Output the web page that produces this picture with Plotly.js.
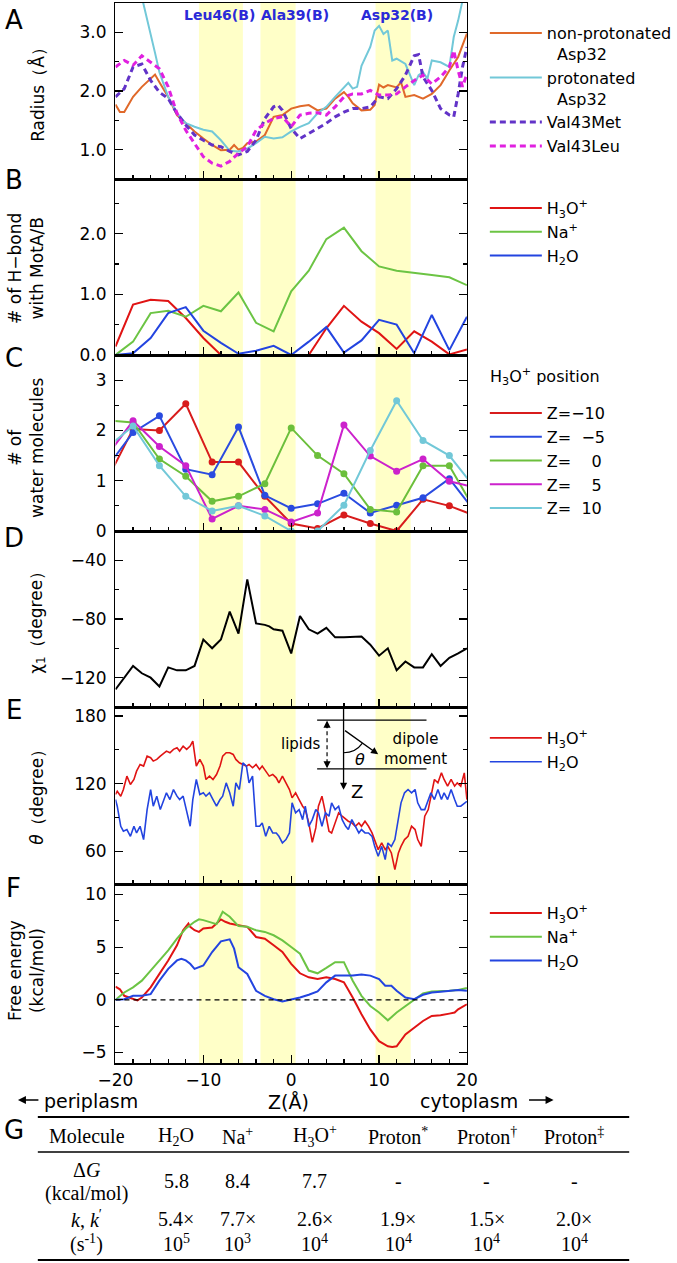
<!DOCTYPE html>
<html>
<head>
<meta charset="utf-8">
<script src="https://cdn.plot.ly/plotly-3.0.1.min.js"></script>
<style>
  body { margin: 0; background: #fff; }
  #chart { width: 677px; height: 1263px; }
</style>
</head>
<body>
<div id="chart"></div>
<script>
// ---------------- data ----------------

// highlighted residue regions (Z, angstrom)
var bandStart = [-10.5, -3.5, 9.6];
var bandEnd = [-5.5, 0.5, 13.6];
var residueLabels = ['Leu46(B)', 'Ala39(B)', 'Asp32(B)'];
var residueZ = [-8.2, 0.4, 12.0];

// A: pore radius
var zNonProt = [-20,-19.5,-19,-18,-17,-16,-15.5,-15,-14,-13,-12,-11,-10,-9,-8,-7,-6.5,-6,-5.5,-5,-4,-3,-2,-1,0,1,2,3,4,5,6,6.5,7,8,9,9.5,10,10.5,11,12,12.5,13,14,15,16,17,18,19,20];
var rNonProt = [1.77,1.64,1.64,1.90,2.07,2.21,2.28,2.15,1.90,1.59,1.45,1.31,1.19,1.08,0.99,1.00,1.08,1.00,1.03,1.11,1.14,1.25,1.56,1.59,1.70,1.74,1.76,1.67,1.70,1.87,1.98,1.90,1.79,1.67,1.68,1.76,2.11,2.06,2.10,2.06,2.15,1.90,1.93,1.87,1.95,2.10,2.35,2.58,2.98];
var zProt = [-20,-19,-18,-17,-16,-15.5,-15,-14,-13,-12,-11,-10,-9,-8,-7,-6,-5,-4,-3,-2,-1,0,1,2,3,4,5,6,6.5,7,7.5,8,8.5,9,9.5,10,10.5,11,11.5,12,13,14,14.5,15,15.5,16,17,18,18.5,19,19.5,20];
var rProt = [4.6,4.3,4.0,3.6,3.0,2.65,2.32,1.90,1.62,1.45,1.39,1.34,1.31,1.16,0.98,0.97,1.02,1.11,1.22,1.19,1.21,1.31,1.39,1.45,1.62,1.73,1.90,2.06,2.14,2.04,2.07,2.43,2.60,2.75,3.03,3.11,2.97,3.03,2.52,2.55,2.46,2.10,2.27,2.32,2.21,2.52,2.49,2.41,2.92,3.2,3.54,4.0];
var zMet = [-20,-19,-18,-17,-16,-15,-14,-13,-12,-11,-10,-9,-8,-7,-6,-5,-4,-3,-2,-1.5,-1,0,1,2,3,4,5,6,7,8,9,10,11,12,13,14,14.5,15,16,17,18,18.5,19,19.5,20];
var rMet = [1.90,2.04,2.41,2.46,2.18,1.98,1.87,1.62,1.42,1.25,1.16,1.08,1.05,0.97,0.91,0.97,1.16,1.53,1.73,1.76,1.67,1.36,1.19,1.28,1.36,1.45,1.56,1.64,1.70,1.70,1.73,1.90,1.87,2.04,2.27,2.60,2.62,2.24,2.01,1.70,1.59,1.56,1.95,2.41,2.75];
var zLeu = [-20,-19,-18,-17,-16,-15,-14,-13,-12,-11,-10,-9,-8,-7,-6,-5,-4,-3,-2,-1,0,1,2,3,4,5,6,7,8,9,10,11,12,13,14,15,16,17,18,18.5,19,19.5,20];
var rLeu = [2.41,2.52,2.44,2.60,2.49,2.38,2.07,1.62,1.33,1.11,0.88,0.77,0.72,0.80,0.94,1.05,1.33,1.45,1.53,1.56,1.39,1.59,1.62,1.63,1.59,1.73,1.90,1.95,1.95,2.01,1.93,1.93,1.95,2.07,2.18,2.27,2.12,2.24,2.41,2.69,2.35,2.07,2.29];

// B: number of H-bonds with MotA/B
var zB = [-20,-18,-16,-14,-12,-10,-8,-6,-4,-2,0,2,4,6,8,10,12,14,16,18,20];
var hbH3O = [0.14,0.83,0.91,0.89,0.61,0.28,0,0,0,0,0,0,0.44,0.81,0.55,0.36,0.10,0.39,0.22,0.01,0.09];
var hbNa = [0,0.22,0.69,0.73,0.63,0.81,0.72,1.03,0.53,0.39,1.05,1.39,1.91,2.10,1.71,1.46,1.39,1.36,1.32,1.28,1.15];
var hbH2O = [0,0.03,0.28,0.69,0.79,0.40,0.20,0.02,0.07,0.15,0,0.22,0.46,0.04,0.24,0.58,0.50,0.03,0.66,0.08,0.63];

// C: number of water molecules, for each H3O+ position
var zC = [-21,-18,-15,-12,-9,-6,-3,0,3,6,9,12,15,18,21];
var wZm10 = [1.0,2.03,2.0,2.53,1.37,1.37,0.69,0.15,0.05,0.32,0.15,0.0,0.63,0.50,0.3];
var wZm5 = [1.26,1.96,2.29,1.23,1.12,2.07,0.71,0.45,0.54,0.75,0.36,0.51,0.66,1.04,0.37];
var wZ0 = [2.2,2.16,1.43,1.09,0.59,0.69,0.94,2.05,1.50,1.14,0.43,0.38,1.30,1.30,0.39];
var wZ5 = [1.49,2.19,1.68,1.30,0.24,0.50,0.43,0.18,0.36,2.11,1.49,1.19,1.43,0.99,0.86];
var wZ10 = [1.65,2.09,1.30,0.69,0.40,0.50,0.30,0,0,0.51,1.60,2.59,1.80,1.50,0.84];
var posLabels = ['Z=\u221210', 'Z=\u00a0\u00a0\u22125', 'Z=\u00a0\u00a0\u00a0\u00a00', 'Z=\u00a0\u00a0\u00a0\u00a05', 'Z=\u00a0\u00a010'];

// D: chi1 dihedral
var zD = [-20,-18,-17,-16,-15,-14,-13,-12,-11,-10,-9,-8,-7,-6,-5,-4,-3,-2.5,-2,-1,0,1,2,3,4,5,6,7,8,9,10,11,12,13,14,15,16,17,18,19,20];
var chi1 = [-128,-112,-117,-120,-126,-113,-115,-115,-112,-94,-100,-94,-75,-90,-53,-83,-84,-85,-87,-88,-103.5,-78,-87,-90,-86,-92.5,-92.5,-92.5,-92,-97.5,-105,-100,-115,-109,-113,-113,-104,-112,-106.5,-103.5,-100];

// E: dipole angle theta
var zE = [-20.0,-19.8,-19.4,-19.1,-18.7,-18.3,-17.9,-17.6,-17.2,-16.8,
  -16.4,-16.0,-15.7,-15.3,-14.9,-14.5,-14.2,-13.8,-13.4,-13.0,
  -12.7,-12.3,-11.9,-11.5,-11.2,-10.8,-10.4,-10.0,-9.7,-9.3,
  -8.9,-8.5,-8.1,-7.8,-7.4,-7.0,-6.6,-6.3,-5.9,-5.5,
  -5.1,-4.8,-4.4,-4.0,-3.6,-3.3,-2.9,-2.5,-2.1,-1.7,
  -1.4,-1.0,-0.6,-0.2,0.1,0.5,0.9,1.3,1.6,2.0,
  2.4,2.8,3.1,3.5,3.9,4.3,4.6,5.0,5.4,5.8,
  6.2,6.5,6.9,7.3,7.7,8.0,8.4,8.8,9.2,9.5,
  9.9,10.3,10.7,11.0,11.4,11.8,12.2,12.5,12.9,13.3,
  13.7,14.1,14.4,14.8,15.2,15.6,15.9,16.3,16.7,17.1,
  17.4,17.8,18.2,18.6,18.9,19.3,19.7,20.0];
var thetaH3O = [110.4,113.3,108.9,114.8,126.7,119.3,123.7,131.1,137.0,135.6,
  144.4,143.0,140.0,141.5,144.4,147.4,148.9,147.4,150.4,151.9,
  148.9,153.3,150.4,153.3,157.8,135.6,141.5,135.6,123.7,126.7,
  123.7,128.1,135.6,144.4,147.4,147.4,145.9,141.5,138.5,137.0,
  135.6,137.0,134.1,137.0,132.6,135.6,131.1,126.7,128.1,125.2,
  120.7,126.7,120.7,114.8,107.4,111.9,105.9,100.0,97.0,85.2,
  68.0,80.7,100.0,108.9,94.1,77.8,76.3,85.2,94.1,91.1,
  88.1,86.7,85.2,82.2,85.2,82.2,86.7,82.2,76.3,70.4,
  61.5,67.4,61.5,64.4,58.5,43.7,58.5,64.4,70.4,73.3,
  82.2,79.3,70.4,64.4,91.1,97.0,108.9,123.7,120.7,129.6,
  123.7,117.8,123.7,117.8,120.7,117.8,129.6,105.9];
var thetaH2O = [105.9,100.0,82.2,77.8,79.3,73.3,82.2,76.3,82.2,70.4,
  97.0,114.8,100.0,108.9,97.0,105.9,111.9,105.9,114.8,108.9,
  105.9,108.9,94.1,82.2,105.9,123.7,110.4,111.9,108.9,111.9,
  105.9,100.0,105.9,108.9,120.7,111.9,100.0,120.7,114.8,138.5,
  135.6,120.7,126.7,82.2,82.2,85.2,73.3,82.2,76.3,76.3,
  73.3,67.4,70.4,76.3,103.0,94.1,97.0,88.1,100.0,82.2,
  88.1,97.0,94.1,82.2,94.1,91.1,103.0,97.0,100.0,88.1,
  82.2,79.3,88.1,82.2,76.3,79.3,76.3,76.3,73.3,64.4,
  55.6,64.4,52.6,67.4,64.4,70.4,88.1,103.0,111.9,114.8,
  111.9,114.8,103.0,97.0,97.0,105.9,111.9,105.9,114.8,105.9,
  111.9,105.9,114.8,105.9,100.0,100.0,103.0,104.4];

// F: free energy profiles
var zFH3O = [-20,-19.5,-19,-18,-17.5,-17,-16,-15,-14,-13,-12.3,-11.7,-11.5,-11,-10.5,-10,-9,-8.5,-8,-7.5,-7,-6,-5,-4,-3,-2,-1,0,1,2,3,4,5,6,7,8,9,10,11,11.5,12,13,14,15,16,17,18,18.6,19,20];
var gH3O = [1.25,1.0,0.38,0.05,-0.05,0.22,1.18,2.46,3.74,5.18,6.61,7.25,6.93,6.61,6.45,6.77,6.87,7.25,7.64,7.41,7.25,7.09,6.93,5.97,5.81,5.18,4.54,3.42,2.52,2.14,1.98,2.14,1.98,1.66,0.22,-1.37,-2.81,-3.93,-4.41,-4.47,-4.41,-3.29,-2.65,-2.01,-1.53,-1.47,-1.31,-1.21,-0.9,-0.42];
var zFNa = [-20,-19,-18,-17,-16,-15,-14,-13,-12,-11,-10.5,-10,-9,-8.5,-7.8,-7,-6,-5,-4,-3,-2,-1,0,1,2,3,4,5,6,7,8,9,10,11,12,13,14,15,16,17,18,19,20];
var gNa = [0,0.7,1.18,1.82,2.78,3.74,4.7,5.81,6.77,7.41,7.64,7.57,7.32,7.19,8.37,7.89,7.0,6.93,6.61,6.45,6.13,5.65,5.02,4.38,2.78,2.52,3.03,3.58,3.58,1.82,0.38,-0.58,-1.21,-1.95,-1.21,-0.58,0.06,0.61,0.8,0.8,0.86,0.93,1.12];
var zFH2O = [-20,-19,-18,-17,-16,-15,-14,-13,-12.5,-12,-11.5,-11,-10,-9,-8,-7,-6.5,-6,-5,-4,-3,-2,-1,0,1,2,3,4,5,6,7,8,9,10,10.7,11.4,12,13,14,15,16,17,18,19,20];
var gH2O = [0,0.06,0.38,0.38,0.54,1.82,2.94,3.74,3.90,3.74,3.42,2.94,3.26,4.54,5.56,5.75,4.86,3.10,2.46,0.86,0.38,0.06,-0.16,0,0.22,0.48,0.8,1.66,2.3,2.3,2.3,2.4,2.3,1.98,1.34,1.34,0.86,0.22,0.06,0.48,0.7,0.77,0.86,0.93,0.86];

// G: table
var tableCols = ['H<sub>2</sub>O', 'Na<sup>+</sup>', 'H<sub>3</sub>O<sup>+</sup>', 'Proton<sup>*</sup>', 'Proton<sup>\u2020</sup>', 'Proton<sup>\u2021</sup>'];
var deltaG = ['5.8', '8.4', '7.7', '-', '-', '-'];
var rateMant = ['5.4', '7.7', '2.6', '1.9', '1.5', '2.0'];
var rateExp = [5, 3, 4, 4, 4, 4];

// ---------------- layout helpers ----------------
var W = 677, H = 1263;
function px(x) { return x / W; }
function py(y) { return 1 - y / H; }

var sans = '"DejaVu Sans", Arial, sans-serif';
var serif = '"Times New Roman", "Liberation Serif", serif';

var panelBox = [[3, 179], [179, 355], [355, 531], [531, 707], [707, 884], [884, 1063]];
var yCfg = [
  {range: [0.5, 3.5], dtick: 1, tick0: 0, minor: 0.5, fmt: '.1f'},
  {range: [0, 2.9], dtick: 1, tick0: 0, minor: 0.5, fmt: '.1f'},
  {range: [0, 3.5], dtick: 1, tick0: 0, minor: 0.5, fmt: ''},
  {range: [-140, -20], dtick: 40, tick0: -40, minor: 20, fmt: ''},
  {range: [31, 188], dtick: 60, tick0: 0, minor: 30, fmt: ''},
  {range: [-6, 11], dtick: 5, tick0: 0, minor: 2.5, fmt: ''}
];

var layout = {
  width: W, height: H,
  margin: {l: 0, r: 0, t: 0, b: 0},
  paper_bgcolor: '#fff',
  plot_bgcolor: 'rgba(0,0,0,0)',
  font: {family: sans, size: 16, color: '#000'},
  showlegend: true,
  shapes: [],
  annotations: []
};

for (var i = 0; i < 6; i++) {
  var s = i === 0 ? '' : String(i + 1);
  layout['xaxis' + s] = {
    domain: [px(116), px(469)], range: [-20, 20], anchor: 'y' + s,
    tick0: 0, dtick: 10, ticks: 'inside', ticklen: 8, tickwidth: 1.2, tickcolor: '#000',
    minor: {dtick: 2, ticks: 'inside', ticklen: 4, tickwidth: 1.2, tickcolor: '#000'},
    showline: true, linecolor: '#000', linewidth: 1.5, mirror: true,
    showgrid: false, zeroline: false,
    showticklabels: i === 5, ticklabelstandoff: 1,
    tickfont: {family: sans, size: 17, color: '#000'}
  };
  var c = yCfg[i];
  layout['yaxis' + s] = {
    domain: [py(panelBox[i][1]), py(panelBox[i][0])], range: c.range, anchor: 'x' + s,
    tick0: c.tick0, dtick: c.dtick, tickformat: c.fmt,
    ticks: 'inside', ticklen: 8, tickwidth: 1.2, tickcolor: '#000',
    minor: {dtick: c.minor, ticks: 'inside', ticklen: 4, tickwidth: 1.2, tickcolor: '#000'},
    showline: true, linecolor: '#000', linewidth: 1.5, mirror: 'ticks',
    showgrid: false, zeroline: false, ticklabelstandoff: 4,
    tickfont: {family: sans, size: 17, color: '#000'}
  };
}

// legends
function legendAt(y) {
  return {
    x: px(487), y: py(y), xanchor: 'left', yanchor: 'top',
    bgcolor: 'rgba(0,0,0,0)', valign: 'top', itemwidth: 52, tracegroupgap: 0,
    font: {family: sans, size: 16, color: '#000'}
  };
}
layout.legend = legendAt(16);
layout.legend2 = legendAt(191);
layout.legend3 = legendAt(396);
layout.legend4 = legendAt(721);
layout.legend5 = legendAt(896);

// ---------------- traces ----------------
var traces = [];
function addLine(panel, x, y, name, color, legend, extra) {
  var s = panel === 1 ? '' : String(panel);
  var t = {
    x: x, y: y, name: name, type: 'scatter', mode: 'lines',
    xaxis: 'x' + s, yaxis: 'y' + s,
    line: {color: color, width: 2},
    legend: legend, showlegend: !!legend
  };
  if (extra) for (var k in extra) t[k] = extra[k];
  traces.push(t);
}

var RED = '#e01414', GREEN = '#6cc444', BLUE = '#2344e0';

addLine(1, zNonProt, rNonProt, 'non-protonated<br>\u00a0\u00a0Asp32', '#e0692a', 'legend');
addLine(1, zProt, rProt, 'protonated<br>\u00a0\u00a0Asp32', '#72c8d8', 'legend');
addLine(1, zMet, rMet, 'Val43Met', '#6233c8', 'legend', {line: {color: '#6233c8', width: 3, dash: '6px,4px'}});
addLine(1, zLeu, rLeu, 'Val43Leu', '#e020e0', 'legend', {line: {color: '#e020e0', width: 3, dash: '6px,4px'}});

addLine(2, zB, hbH3O, 'H<sub>3</sub>O<sup>+</sup>', RED, 'legend2');
addLine(2, zB, hbNa, 'Na<sup>+</sup>', GREEN, 'legend2');
addLine(2, zB, hbH2O, 'H<sub>2</sub>O', BLUE, 'legend2');

var cSeries = [wZm10, wZm5, wZ0, wZ5, wZ10];
var cColors = ['#d81c1c', '#2a4be0', '#6cbf3c', '#cc22cc', '#72c8d8'];
for (var j = 0; j < cSeries.length; j++) {
  addLine(3, zC, cSeries[j], posLabels[j], cColors[j], null,
    {mode: 'lines+markers', marker: {size: 7, color: cColors[j]}});
}
// legend entries for C show the line only, as in the figure
for (var j2 = 0; j2 < cSeries.length; j2++) {
  addLine(3, [null], [null], posLabels[j2], cColors[j2], 'legend3');
}

addLine(4, zD, chi1, 'chi1', '#000', null);

addLine(5, zE, thetaH3O, 'H<sub>3</sub>O<sup>+</sup>', RED, 'legend4', {line: {color: RED, width: 1.6}});
addLine(5, zE, thetaH2O, 'H<sub>2</sub>O', BLUE, 'legend4', {line: {color: BLUE, width: 1.6}});

addLine(6, zFH3O, gH3O, 'H<sub>3</sub>O<sup>+</sup>', RED, 'legend5');
addLine(6, zFNa, gNa, 'Na<sup>+</sup>', GREEN, 'legend5');
addLine(6, zFH2O, gH2O, 'H<sub>2</sub>O', BLUE, 'legend5');

// ---------------- shapes & annotations ----------------
var shapes = layout.shapes, ann = layout.annotations;

function text(xref, yref, x, y, str, font, extra) {
  var a = {xref: xref, yref: yref, x: x, y: y, text: str, showarrow: false,
    xanchor: 'center', yanchor: 'middle', font: font};
  if (extra) for (var k in extra) a[k] = extra[k];
  ann.push(a);
}
function pageText(x, y, str, size, extra, family) {
  text('paper', 'paper', px(x), py(y), str, {family: family || sans, size: size, color: '#000'}, extra);
}

for (var b = 0; b < bandStart.length; b++) {
  shapes.push({type: 'rect', xref: 'x', yref: 'paper', x0: bandStart[b], x1: bandEnd[b],
    y0: py(1063), y1: py(3), fillcolor: 'rgb(255,255,200)', line: {width: 0}, layer: 'below'});
  text('x', 'paper', residueZ[b], py(15), '<b>' + residueLabels[b] + '</b>',
    {family: sans, size: 14, color: '#2a2ad8'});
}

// zero reference in F
shapes.push({type: 'line', xref: 'x6 domain', yref: 'y6', x0: 0, x1: 1, y0: 0, y1: 0,
  line: {color: '#000', width: 1.3, dash: '5px,4px'}});

// panel letters
var letters = ['A', 'B', 'C', 'D', 'E', 'F', 'G'];
var letterY = [20, 180, 358, 538, 710, 888, 1130];
for (var m = 0; m < letters.length; m++) pageText(14, letterY[m], letters[m], 26);

// axis titles
var yTitles = ['Radius\uff08\u00c5\uff09', '# of H\u2212bond<br>with MotA/B', '# of<br>water molecules',
  '\u03c7<sub>1</sub>\uff08degree\uff09', '<i>\u03b8</i>\uff08degree\uff09', 'Free energy<br>(kcal/mol)'];
var yTitleX = [37, 26, 26, 37, 37, 26];
var yTitleY = [90, 268, 448, 618, 793, 970];
for (var n = 0; n < yTitles.length; n++) pageText(yTitleX[n], yTitleY[n], yTitles[n], 17, {textangle: -90});

pageText(490, 377, 'H<sub>3</sub>O<sup>+</sup> position', 16, {xanchor: 'left'});
pageText(290, 1102, 'Z(\u00c5)', 19);
pageText(42, 1101, 'periplasm', 19, {xanchor: 'left'});
pageText(522, 1101, 'cytoplasm', 19, {xanchor: 'right'});
// direction arrows next to periplasm / cytoplasm
ann.push({xref: 'paper', yref: 'paper', x: px(18), y: py(1100), ax: 22, ay: 0, text: '',
  showarrow: true, arrowhead: 2, arrowsize: 1, arrowwidth: 1.6, arrowcolor: '#000'});
ann.push({xref: 'paper', yref: 'paper', x: px(556), y: py(1100), ax: -26, ay: 0, text: '',
  showarrow: true, arrowhead: 2, arrowsize: 1, arrowwidth: 1.6, arrowcolor: '#000'});

// E inset: geometry sketch of the dipole angle
shapes.push({type: 'line', xref: 'x5', yref: 'y5', x0: 2.95, x1: 15.4, y0: 176.4, y1: 176.4, line: {color: '#000', width: 1.2}});
shapes.push({type: 'line', xref: 'x5', yref: 'y5', x0: 2.95, x1: 15.4, y0: 133.2, y1: 133.2, line: {color: '#000', width: 1.2}});
shapes.push({type: 'line', xref: 'x5', yref: 'y5', x0: 4.08, x1: 4.08, y0: 138, y1: 171.5, line: {color: '#000', width: 1.2, dash: '4px,3px'}});
shapes.push({type: 'path', xref: 'x5', yref: 'y5', path: 'M5.96,147.4 Q7.32,147.4 8.11,156', line: {color: '#000', width: 1.2}});
function arrow(x, y, ax, ay) {
  ann.push({xref: 'x5', yref: 'y5', axref: 'x5', ayref: 'y5', x: x, y: y, ax: ax, ay: ay, text: '',
    showarrow: true, arrowhead: 2, arrowsize: 1.1, arrowwidth: 1.3, arrowcolor: '#000'});
}
arrow(5.96, 114.5, 5.96, 187.5);
arrow(4.08, 176, 4.08, 168);
arrow(4.08, 133.6, 4.08, 141);
arrow(9.9, 146, 5.96, 168);
function insetText(x, y, str, anchor, size) {
  text('x5', 'y5', x, y, str, {family: sans, size: size || 15, color: '#000'}, {xanchor: anchor || 'center'});
}
insetText(3.6, 155, 'lipids', 'right');
insetText(7.85, 141, '<i>\u03b8</i>', 'center', 16);
insetText(14.2, 151, 'dipole<br>moment');
insetText(7.5, 113, 'Z', 'center', 18);

// G table
var tL = 38, tR = 632;
[[1117, 2], [1152, 1.5], [1260, 2]].forEach(function (r) {
  shapes.push({type: 'line', xref: 'paper', yref: 'paper', x0: px(tL), x1: px(tR), y0: py(r[0]), y1: py(r[0]),
    line: {color: '#000', width: r[1]}});
});
var colX = [177, 239, 316, 400, 489, 577];
function cell(x, y, str) { pageText(x, y, str, 20, null, serif); }
cell(87, 1136, 'Molecule');
cell(87, 1170, '\u0394<i>G</i>');
cell(87, 1193, '(kcal/mol)');
cell(87, 1219, '<i>k</i>, <i>k</i><sup>\u2032</sup>');
cell(87, 1243, '(s<sup>-1</sup>)');
for (var q = 0; q < tableCols.length; q++) {
  cell(colX[q], 1136, tableCols[q]);
  cell(colX[q], 1181, deltaG[q]);
  cell(colX[q], 1219, rateMant[q] + '\u00d7');
  cell(colX[q], 1243, '10<sup>' + rateExp[q] + '</sup>');
}

Plotly.newPlot('chart', traces, layout, {staticPlot: true, displayModeBar: false});
</script>
</body>
</html>
